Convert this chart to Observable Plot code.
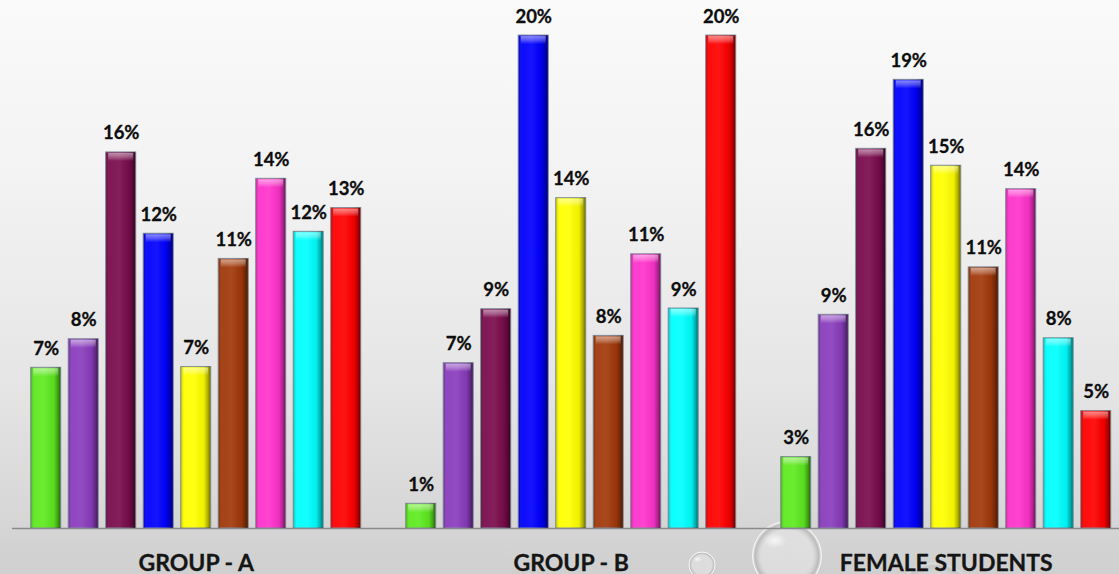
<!DOCTYPE html>
<html>
<head>
<meta charset="utf-8">
<script src="https://cdn.jsdelivr.net/npm/d3@7"></script>
<script src="https://cdn.jsdelivr.net/npm/@observablehq/plot@0.6"></script>
<style>
  html, body { margin: 0; padding: 0; overflow: hidden; }
  body {
    width: 1119px; height: 574px;
    background: linear-gradient(to bottom, #fafafa 0%, #f3f3f3 30%, #e6e6e6 65%, #d8d8d8 88%, #cfcfcf 100%);
    font-family: Lato, "Open Sans", sans-serif;
  }
</style>
</head>
<body>
<div id="chart"></div>
<script>
// ---- data (percent) ----
const groups = ["GROUP - A", "GROUP - B", "FEMALE STUDENTS"];
const series = ["S1", "S2", "S3", "S4", "S5", "S6", "S7", "S8", "S9"];
const colors = ["#5eea1f", "#8a3cbd", "#7a0c4d", "#0000ff", "#ffff00", "#a1390a", "#ff33cc", "#00ffff", "#ff0000"];
const groupA = [6.64, 7.82, 15.54, 12.18, 6.67, 11.14, 14.45, 12.26, 13.24];
const groupB = [1.02, 6.83, 9.06, 20.37, 13.65, 7.96, 11.33, 9.09, 20.37];
const female = [2.95, 8.83, 15.69, 18.54, 14.99, 10.79, 14.02, 7.86, 4.85];

const valuesByGroup = [groupA, groupB, female];
const data = groups.flatMap((g, gi) =>
  series.map((s, si) => ({group: g, series: s, key: g + "|" + s, value: valuesByGroup[gi][si]}))
);
const xDomain = groups.flatMap((g, gi) => [...(gi ? ["gap" + gi] : []), ...series.map(s => g + "|" + s)]);

const plot = Plot.plot({
  width: 1119,
  height: 574,
  marginLeft: 12,
  marginRight: 0,
  marginTop: 0,
  marginBottom: 46,
  style: {background: "transparent", fontFamily: "Lato, 'Open Sans', sans-serif", overflow: "visible"},
  x: {domain: xDomain, paddingInner: 0.2, paddingOuter: 0.36, align: 0.693, round: false, axis: null},
  y: {domain: [0, 21.82], axis: null},
  color: {domain: series, range: colors},
  marks: [
    Plot.ruleY([0], {stroke: "#8a8a8a", strokeWidth: 1.5}),
    Plot.barY(data, {x: "key", y: "value", fill: "series", stroke: "#7d8894", strokeWidth: 1}),
    Plot.barY(data, {x: "key", y: "value", fill: "url(#barShade)", insetLeft: 0.5, insetRight: 0.5}),
    Plot.barY(data, {x: "key", y1: "value", y2: "value", insetBottom: -9, insetLeft: 2.5, insetRight: 2.5, insetTop: 1, fill: "url(#barTop)"}),
    Plot.text(data, {x: "key", y: "value", text: d => Math.round(d.value) + "%", lineAnchor: "bottom", dy: -13,
      fontSize: 18.5, fontWeight: "bold", fill: "#0d0d0d", stroke: "#0d0d0d", strokeWidth: 0.3}),
    Plot.text(groups, {x: g => g + "|" + series[4], frameAnchor: "bottom", lineAnchor: "bottom", dy: 42,
      text: d => d, fontSize: 23, fontWeight: "bold", fill: "#151515", stroke: "#151515", strokeWidth: 0.3})
  ]
});

// gradients for the bevelled bar look and decorative bubbles
(function decorate() {
  const svg = d3.select(plot);
  const defs = svg.insert("defs", ":first-child");
  const shade = defs.append("linearGradient").attr("id", "barShade").attr("x1", 0).attr("x2", 1).attr("y1", 0).attr("y2", 0);
  [[0, "#000", 0.2], [0.12, "#fff", 0.05], [0.45, "#fff", 0.08], [0.78, "#000", 0.06], [0.92, "#000", 0.32], [1, "#000", 0.55]]
    .forEach(([o, c, a]) => shade.append("stop").attr("offset", o).attr("stop-color", c).attr("stop-opacity", a));
  const topG = defs.append("linearGradient").attr("id", "barTop").attr("x1", 0).attr("x2", 0).attr("y1", 0).attr("y2", 1);
  [[0, 0.5], [0.5, 0.3], [1, 0]].forEach(([o, a]) => topG.append("stop").attr("offset", o).attr("stop-color", "#fff").attr("stop-opacity", a));
  const bub = defs.append("radialGradient").attr("id", "bubble").attr("cx", 0.5).attr("cy", 0.5).attr("r", 0.5);
  [[0, "#ffffff", 0.25], [0.75, "#f4f4f4", 0.35], [0.92, "#a8a8a8", 0.55], [1, "#ffffff", 0.6]]
    .forEach(([o, c, a]) => bub.append("stop").attr("offset", o).attr("stop-color", c).attr("stop-opacity", a));
  const hl = defs.append("radialGradient").attr("id", "bubbleHL").attr("cx", 0.5).attr("cy", 0.5).attr("r", 0.5);
  [[0, "#fff", 0.9], [1, "#fff", 0]].forEach(([o, c, a]) => hl.append("stop").attr("offset", o).attr("stop-color", c).attr("stop-opacity", a));

  const deco = svg.insert("g", () => defs.node().nextSibling).attr("aria-hidden", "true");
  [[787, 556, 34.5], [702, 565, 13], [935, 605, 42]].forEach(([cx, cy, r], i) => {
    deco.append("circle").attr("cx", cx).attr("cy", cy).attr("r", r)
      .attr("fill", "url(#bubble)").attr("stroke", "#fff").attr("stroke-opacity", i === 2 ? 0.3 : 0.7)
      .attr("opacity", i === 2 ? 0.5 : 1);
    deco.append("ellipse").attr("cx", cx - r * 0.35).attr("cy", cy - r * 0.45).attr("rx", r * 0.35).attr("ry", r * 0.22)
      .attr("fill", "url(#bubbleHL)").attr("opacity", i === 2 ? 0.3 : 0.8);
  });
})();

document.getElementById("chart").appendChild(plot);
</script>
</body>
</html>
